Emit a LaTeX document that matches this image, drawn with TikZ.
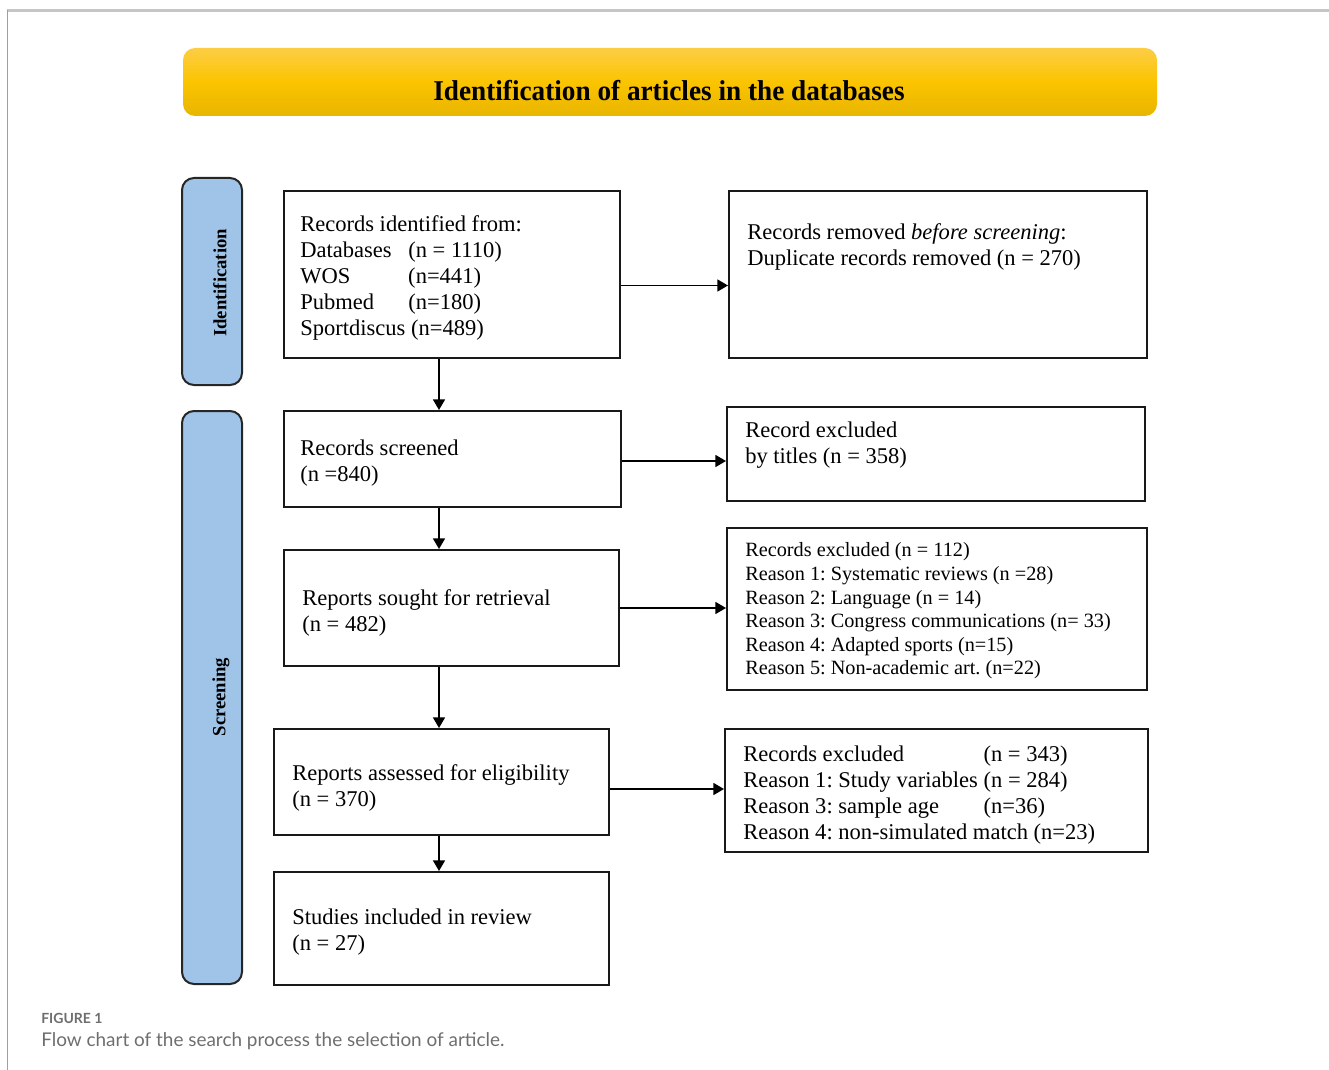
\documentclass[tikz,border=0pt]{standalone}
\usepackage{fontspec}
\usepackage{calc}
\usepackage{graphicx}
\setmainfont{Liberation Serif}
\newfontfamily\capfont{Lato}
\usetikzlibrary{arrows.meta,fit,shadings}
\definecolor{sideblue}{HTML}{9FC4E8}
\definecolor{ytop}{HTML}{FCCD45}
\definecolor{ymid}{HTML}{FBC400}
\definecolor{ybot}{HTML}{E8B500}
\definecolor{capgray}{HTML}{6E6E6E}
\frenchspacing
\begin{document}
\frenchspacing
\begin{tikzpicture}[x=0.75pt,y=-0.75pt,
  box/.style={draw=black!90, line width=1.5pt, inner sep=0pt, fill=white},
  side/.style={draw=black!85, line width=1.5pt, inner sep=0pt, fill=sideblue, rounded corners=9pt},
  txt/.style={anchor=west, align=left, inner sep=0pt, font=\frenchspacing\fontsize{16.9}{19.5}\selectfont},
  smalltxt/.style={anchor=west, align=left, inner sep=0pt, font=\frenchspacing\fontsize{15.2}{17.7}\selectfont},
  sidetxt/.style={rotate=90, inner sep=0pt, font=\bfseries\fontsize{14}{16}\selectfont},
  arr/.style={-{Triangle[length=8pt,width=9pt]}, line width=1.3pt}]
\useasboundingbox (0,0) rectangle (1329,1070);
% page frame lines
\draw[gray!45, line width=1.6pt] (7,10.5) -- (1329,10.5);
\draw[gray!75, line width=1.2pt] (7.5,10) -- (7.5,1070);
% title banner
\node[fit={(183,48)(1157,116)}, inner sep=0pt, rounded corners=9pt,
      top color=ytop, bottom color=ybot, middle color=ymid] (title) {};
\node[inner sep=0pt] (titletxt) at (669,91) {\scalebox{0.95}[1]{\bfseries\fontsize{21.5}{24}\selectfont Identification of articles in the databases}};
% side bars
\node[side, fit={(182,178)(242,385)}] (sideid) {};
\node[sidetxt] (sideidtxt) at (220,283) {Identification};
\node[side, fit={(182,411)(242,984)}] (sidescr) {};
\node[sidetxt] (sidescrtxt) at (221,697) {Screening};
% column coordinate for vertical arrows
\coordinate (col) at (439,0);
% boxes
\node[box, fit={(284,191)(620,358)}] (b1) {};
\node[box, fit={(729,191)(1147,358)}] (b2) {};
\node[box, fit={(284,411)(621,507)}] (scr) {};
\node[box, fit={(727,407)(1145,501)}] (exc1) {};
\node[box, fit={(284,550)(619,666)}] (sought) {};
\node[box, fit={(727,528)(1147,690)}] (exc2) {};
\node[box, fit={(274,729)(609,835)}] (assess) {};
\node[box, fit={(725,729)(1148,852)}] (exc3) {};
\node[box, fit={(274,872)(609,985)}] (incl) {};
% texts
\node[txt] (b1t) at (300,277.5) {Records identified from:\\
\makebox[81pt][l]{Databases}(n = 1110)\\
\makebox[81pt][l]{WOS}(n=441)\\
\makebox[81pt][l]{Pubmed}(n=180)\\
Sportdiscus (n=489)};
\node[txt] (b2t) at (747,246.5) {Records removed \textit{before screening}:\\ Duplicate records removed (n = 270)};
\node[txt] (scrt) at (300,463) {Records screened\\ (n =840)};
\node[txt] (exc1t) at (745,445.5) {Record excluded\\ by titles (n = 358)};
\node[txt] (soughtt) at (302,612.5) {Reports sought for retrieval\\ (n = 482)};
\node[smalltxt] (exc2t) at (745,611) {Records excluded (n = 112)\\
Reason 1: Systematic reviews (n =28)\\
Reason 2: Language (n = 14)\\
Reason 3: Congress communications (n= 33)\\
Reason 4: Adapted sports (n=15)\\
Reason 5: Non-academic art. (n=22)};
\node[txt] (assesst) at (292,787.5) {Reports assessed for eligibility\\ (n = 370)};
\node[txt] (exc3t) at (743,795) {\makebox[\widthof{Reason 1: Study variables\ }][l]{Records excluded}(n = 343)\\
Reason 1: Study variables (n = 284)\\
\makebox[\widthof{Reason 1: Study variables\ }][l]{Reason 3: sample age}(n=36)\\
Reason 4: non-simulated match (n=23)};
\node[txt] (inclt) at (292,932.5) {Studies included in review\\ (n = 27)};
% connectors
\draw[arr] ([yshift=-8.25pt]b1.east) -- ([yshift=-8.25pt]b1.east -| b2.west);
\draw[arr] (b1.south -| col) -- (scr.north -| col);
\draw[arr] ([yshift=-1.5pt]scr.east) -- ([yshift=-1.5pt]scr.east -| exc1.west);
\draw[arr] (scr.south -| col) -- (sought.north -| col);
\draw[arr] (sought.east) -- (sought.east -| exc2.west);
\draw[arr] (sought.south -| col) -- (assess.north -| col);
\draw[arr] ([yshift=-5.25pt]assess.east) -- ([yshift=-5.25pt]assess.east -| exc3.west);
\draw[arr] (assess.south -| col) -- (incl.north -| col);
% caption
\node[anchor=west, inner sep=0pt, text=capgray, font=\capfont\bfseries\fontsize{10.5}{12}\selectfont] (cap1) at (41,1018) {FIGURE 1};
\node[anchor=west, inner sep=0pt, text=capgray, font=\capfont\fontsize{14.2}{16}\selectfont] (cap2) at (41,1041) {Flow chart of the search process the selection of article.};
\end{tikzpicture}
\end{document}
